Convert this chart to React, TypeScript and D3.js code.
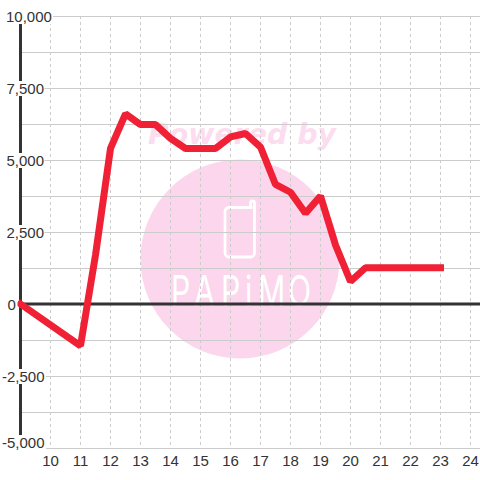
import React from "react";
import * as d3 from "d3";

const hours = [9, 11, 11.5, 12, 12.5, 13, 13.5, 14, 14.5, 15, 15.5, 16, 16.5, 17, 17.5, 18, 18.5, 19, 19.5, 20, 20.5, 21, 21.5, 22, 22.5, 23];
const values = [0, -1450, 1700, 5400, 6600, 6230, 6230, 5750, 5400, 5400, 5400, 5800, 5920, 5450, 4150, 3880, 3150, 3750, 2050, 780, 1260, 1260, 1260, 1260, 1260, 1260];
const xTicks = [10, 11, 12, 13, 14, 15, 16, 17, 18, 19, 20, 21, 22, 23, 24];
const yMajor = [10000, 7500, 5000, 2500, 0, -2500, -5000];
const yMinor = [8750, 6250, 3750, 1250, -1250, -3750];

const FONT = "'Liberation Sans', Arial, sans-serif";
const INK = "#333333";
const PINK = "#fcd6ec";
const x = d3.scaleLinear().domain([9, 24]).range([20.5, 470.5]);
const y = d3.scaleLinear().domain([-5000, 10000]).range([448, 16]);
const fmt = d3.format(",");
const logoScale = 0.72;
const logoX = [171, 194, 221, 245, 258, 288].map((v) => v / logoScale).join(" ");

export default function App() {
  const points = hours.map((h, i) => [x(h), y(values[i])] as [number, number]);
  const path = d3.line()(points) ?? "";
  return (
    <svg width={480} height={480} style={{ position: "absolute", left: 0, top: 0, background: "#fff" }}>
      <g>
        <circle cx={240} cy={259} r={99.5} fill={PINK} />
        <text x={148} y={144} fontFamily="'DejaVu Sans'" fontWeight="bold" fontStyle="italic" fontSize={29} fill="#fcdcef" textLength={188} lengthAdjust="spacingAndGlyphs">Powered by</text>
        <path d="M252.5 207.5H229a4 4 0 0 0-4 4V253a4 4 0 0 0 4 4h21.5a4 4 0 0 0 4-4V203a2 2 0 0 0-4 0v4.5" fill="none" stroke="#fff" strokeWidth={2.8} />
        <text transform={`scale(${logoScale},1)`} x={logoX} y={306} fontFamily="'Inter','Liberation Sans'" fontWeight={400} fontSize={42} fill="#fff">PAPiMO</text>
      </g>
      <g stroke="#cccccc" strokeWidth={1}>
        {yMinor.map((v) => <line key={v} x1={22} x2={480} y1={y(v) + 0.5} y2={y(v) + 0.5} />)}
        {yMajor.filter((v) => v !== 0).map((v) => <line key={v} x1={22} x2={480} y1={y(v) + 0.5} y2={y(v) + 0.5} />)}
        {xTicks.map((t) => <line key={t} x1={x(t)} x2={x(t)} y1={16} y2={448} strokeDasharray="3 3" />)}
      </g>
      <line x1={20.5} x2={20.5} y1={16} y2={448} stroke={INK} strokeWidth={3} />
      <line x1={22} x2={480} y1={y(0)} y2={y(0)} stroke={INK} strokeWidth={3} />
      <path d={path} fill="none" stroke="#f02035" strokeWidth={7} strokeLinejoin="bevel" strokeLinecap="square" />
      <g fontFamily={FONT} fontSize={15} fill={INK}>
        {yMajor.map((v) => {
          const label = fmt(v).replace("−", "-");
          const left = v < 0 ? 2 : v === 0 ? 7.5 : v === 10000 ? 6 : 6.5;
          const wide = v === 10000 ? 47 : v === 0 ? 10 : v < 0 ? 44 : 38;
          const shift = v === -5000 ? -6 : 0;
          return (
            <g key={v}>
              <rect x={left} y={y(v) - 7 + shift} width={wide} height={v === -5000 ? 21 : 15} fill="#fff" />
              <text x={left} y={y(v) + 5.5 + shift}>{label}</text>
            </g>
          );
        })}
        {xTicks.map((t) => <text key={t} x={x(t)} y={466} textAnchor="middle">{t}</text>)}
      </g>
    </svg>
  );
}
